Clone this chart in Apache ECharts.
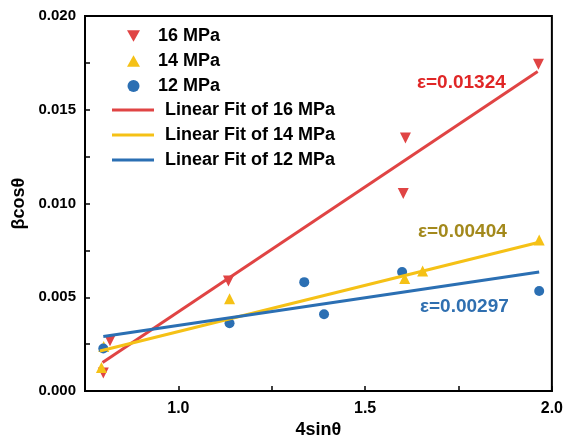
<!DOCTYPE html>
<html>
<head>
<meta charset="utf-8">
<script src="https://cdn.jsdelivr.net/npm/echarts@6/dist/echarts.min.js"></script>
<style>
  html, body { margin: 0; padding: 0; background: #fff; }
  #chart { width: 566px; height: 444px; }
</style>
</head>
<body>
<div id="chart"></div>
<script>
// measured points (4sinθ, βcosθ)
const x16 = [0.799, 0.817, 1.134, 1.602, 1.608, 1.964]
const y16 = [0.00096, 0.00268, 0.00587, 0.01053, 0.0135, 0.01743]
const x14 = [0.794, 0.800, 1.137, 1.606, 1.654, 1.966]
const y14 = [0.00126, 0.00238, 0.00493, 0.0060, 0.0064, 0.00805]
const x12 = [0.799, 1.137, 1.337, 1.390, 1.599, 1.966]
const y12 = [0.00227, 0.00362, 0.00581, 0.0041, 0.00635, 0.00534]

// fit line end points
const fit16 = [[0.797, 0.00153], [1.962, 0.01704]]
const fit14 = [[0.790, 0.00214], [1.966, 0.00794]]
const fit12 = [[0.799, 0.00291], [1.966, 0.00635]]

const xLabels = ['1.0', '1.5', '2.0']
const strains = ['ε=0.01324', 'ε=0.00404', 'ε=0.00297']

const RED = '#e04444'
const YEL = '#f5c116'
const BLU = '#2b6fb3'
const FONT = 'Arial, "Liberation Sans", sans-serif'
const DOWN_TRI = 'path://M0,0L10,0L5,9Z'
const UP_TRI = 'path://M5,0L10,9L0,9Z'

const zip = (xs, ys) => xs.map((x, i) => [x, ys[i]])

const chart = echarts.init(document.getElementById('chart'))

const axisCommon = {
  axisLine: { show: true, onZero: false, lineStyle: { color: '#000', width: 2 } },
  axisTick: { show: true, inside: true, length: 5, lineStyle: { color: '#000', width: 1.5 } },
  splitLine: { show: false },
  nameTextStyle: { color: '#000', fontSize: 18, fontWeight: 'bold', fontFamily: FONT },
}
const legendText = { color: '#000', fontSize: 18, fontWeight: 'bold', fontFamily: FONT }

chart.setOption({
  backgroundColor: '#fff',
  animation: false,
  grid: { left: 85, right: 12, top: 16, bottom: 52, show: true, borderColor: '#000', borderWidth: 2 },
  xAxis: {
    ...axisCommon,
    type: 'value', min: 0.75, max: 2.0, interval: 0.25,
    name: '4sinθ', nameLocation: 'middle', nameGap: 27,
    axisLabel: {
      color: '#000', fontSize: 16, fontWeight: 'bold', fontFamily: FONT, margin: 9,
      formatter: v => { const s = v.toFixed(1); return xLabels.includes(s) && Math.abs(v * 2 - Math.round(v * 2)) < 1e-6 ? s : '' },
    },
  },
  yAxis: {
    ...axisCommon,
    type: 'value', min: 0, max: 0.02, interval: 0.0025,
    name: 'βcosθ', nameLocation: 'middle', nameGap: 48,
    axisLabel: {
      color: '#000', fontSize: 15, fontWeight: 'bold', fontFamily: FONT, margin: 9,
      formatter: v => Math.abs(v / 0.005 - Math.round(v / 0.005)) < 1e-6 ? v.toFixed(3) : '',
    },
  },
  legend: [
    {
      data: [
        { name: '16 MPa', icon: DOWN_TRI },
        { name: '14 MPa', icon: UP_TRI },
        { name: '12 MPa', icon: 'circle' },
      ],
      orient: 'vertical', left: 127, top: 27, padding: 0,
      itemWidth: 13, itemHeight: 12, itemGap: 7,
      textStyle: { ...legendText, padding: [0, 0, 0, 13] },
    },
    {
      data: [
        { name: 'Linear Fit of 16 MPa', icon: 'rect' },
        { name: 'Linear Fit of 14 MPa', icon: 'rect' },
        { name: 'Linear Fit of 12 MPa', icon: 'rect' },
      ],
      orient: 'vertical', left: 112, top: 101, padding: 0,
      itemWidth: 42, itemHeight: 3, itemGap: 7,
      textStyle: { ...legendText, padding: [0, 0, 0, 6] },
    },
  ],
  graphic: [
    { type: 'text', left: 417, top: 73, style: { text: strains[0], fill: '#e02626', font: 'bold 19px ' + FONT } },
    { type: 'text', left: 418, top: 222, style: { text: strains[1], fill: '#a3891c', font: 'bold 19px ' + FONT } },
    { type: 'text', left: 420, top: 297, style: { text: strains[2], fill: '#2f6fb0', font: 'bold 19px ' + FONT } },
  ],
  series: [
    { name: '16 MPa', type: 'scatter', data: zip(x16, y16), symbol: DOWN_TRI, symbolSize: 11,
      itemStyle: { color: RED, opacity: 1 }, z: 2 },
    { name: '14 MPa', type: 'scatter', data: zip(x14, y14), symbol: UP_TRI, symbolSize: 11,
      itemStyle: { color: YEL, opacity: 1 }, z: 2 },
    { name: '12 MPa', type: 'scatter', data: zip(x12, y12), symbol: 'circle', symbolSize: 10,
      itemStyle: { color: BLU, opacity: 1 }, z: 2 },
    { name: 'Linear Fit of 16 MPa', type: 'line', data: fit16, symbol: 'none', color: RED,
      lineStyle: { color: RED, width: 3 }, z: 3 },
    { name: 'Linear Fit of 14 MPa', type: 'line', data: fit14, symbol: 'none', color: YEL,
      lineStyle: { color: YEL, width: 3 }, z: 3 },
    { name: 'Linear Fit of 12 MPa', type: 'line', data: fit12, symbol: 'none', color: BLU,
      lineStyle: { color: BLU, width: 3 }, z: 3 },
  ],
})
</script>
</body>
</html>
